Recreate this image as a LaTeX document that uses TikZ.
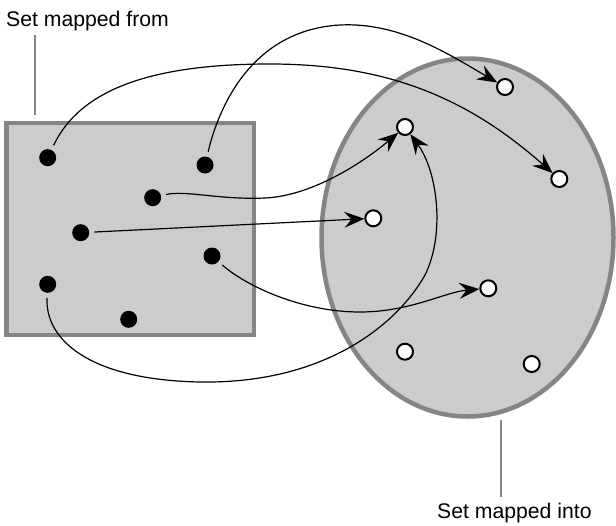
\documentclass[tikz,border=0pt]{standalone}
\usepackage{fontspec}
\setmainfont{Liberation Sans}
\usetikzlibrary{arrows.meta}
\definecolor{setfill}{HTML}{CCCCCC}
\definecolor{setedge}{HTML}{858585}
\tikzset{
  setshape/.style={draw=setedge, line width=4.5pt, fill=setfill},
  labelline/.style={draw=setedge, line width=1.6pt},
  labeltext/.style={anchor=base west, inner sep=0pt, font=\fontsize{21.2}{25}\selectfont},
  fromdot/.style={circle, fill=black, minimum size=17pt, inner sep=0pt},
  intodot/.style={circle, draw=black, line width=2pt, fill=white, minimum size=16pt, inner sep=0pt},
  conn/.style={draw=black, line width=1.2pt, shorten <=5pt,
    -{Stealth[length=20pt, width=16pt, inset=7pt]}},
}
\begin{document}
\begin{tikzpicture}[x=1pt, y=-1pt]
\useasboundingbox (0,0) rectangle (616,525);
% sets
\path[setshape] (6.5,123) rectangle (254,335);
\path[setshape] (467.5,237.5) ellipse [x radius=146, y radius=179];
% labels
\node[labeltext] (tfrom) at (6,26) {Set mapped from};
\node[labeltext] (tinto) at (437,518) {Set mapped into};
\coordinate (lf1) at (35,35);
\coordinate (lf2) at (35,115);
\coordinate (li1) at (501,420);
\coordinate (li2) at (501,497);
\draw[labelline] (lf1) -- (lf2);
\draw[labelline] (li1) -- (li2);
% points of the set mapped from
\node[fromdot] (a1) at (47.7,157.7) {};
\node[fromdot] (a2) at (205,165) {};
\node[fromdot] (a3) at (152.7,197.7) {};
\node[fromdot] (a4) at (80.7,232.7) {};
\node[fromdot] (a5) at (212,256) {};
\node[fromdot] (a6) at (47.7,284.3) {};
\node[fromdot] (a7) at (128.7,319.3) {};
% points of the set mapped into
\node[intodot] (b1) at (505,87) {};
\node[intodot] (b2) at (405,127) {};
\node[intodot] (b3) at (559.3,179) {};
\node[intodot] (b4) at (373.3,218.3) {};
\node[intodot] (b5) at (488.3,288.3) {};
\node[intodot] (b6) at (405,351.7) {};
\node[intodot] (b7) at (531.7,364) {};
% mappings
\draw[conn] (a1) .. controls (80,90) and (150,64) .. (270,64)
  .. controls (390,64) and (470,100) .. (b3);
\draw[conn] (a2) .. controls (218,110) and (250,30) .. (340,25)
  .. controls (400,22) and (450,55) .. (b1);
\draw[conn] (a3) .. controls (185,190) and (220,200) .. (265,198)
  .. controls (310,196) and (360,165) .. (b2);
\draw[conn] (a4) -- (b4);
\draw[conn] (a5) .. controls (245,285) and (300,312) .. (360,312)
  .. controls (410,312) and (445,292) .. (b5);
\draw[conn] (a6) .. controls (45,340) and (90,380) .. (200,382)
  .. controls (330,384) and (400,320) .. (425,275)
  .. controls (445,235) and (438,172) .. (b2);
\end{tikzpicture}
\end{document}
